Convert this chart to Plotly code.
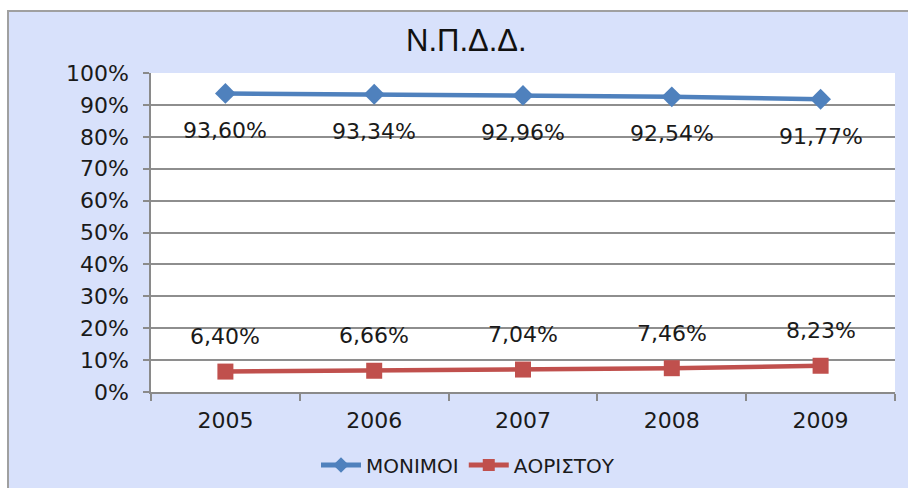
import plotly.graph_objects as go

years = ["2005", "2006", "2007", "2008", "2009"]
monimoi = [93.60, 93.34, 92.96, 92.54, 91.77]
aoristou = [6.40, 6.66, 7.04, 7.46, 8.23]
monimoi_labels = ["93,60%", "93,34%", "92,96%", "92,54%", "91,77%"]
aoristou_labels = ["6,40%", "6,66%", "7,04%", "7,46%", "8,23%"]
y_ticks = [0, 10, 20, 30, 40, 50, 60, 70, 80, 90, 100]
y_tick_text = [f"{v}%" for v in y_ticks]

BLUE = "#4f81bd"
RED = "#c0504d"
FONT = "DejaVu Sans"

fig = go.Figure()
fig.add_trace(go.Scatter(
    x=years, y=monimoi, name="ΜΟΝΙΜΟΙ", mode="lines+markers",
    line=dict(color=BLUE, width=4.5),
    marker=dict(symbol="diamond", size=16, color=BLUE),
))
fig.add_trace(go.Scatter(
    x=years, y=aoristou, name="ΑΟΡΙΣΤΟΥ", mode="lines+markers",
    line=dict(color=RED, width=4.5),
    marker=dict(symbol="square", size=16, color=RED),
))

annotations = []
for i, (y, t) in enumerate(zip(monimoi, monimoi_labels)):
    annotations.append(dict(x=i, y=y, xref="x", yref="y", text=t, showarrow=False,
                            yshift=-37, yanchor="middle",
                            font=dict(family=FONT, size=22, color="#1a1a1a")))
for i, (y, t) in enumerate(zip(aoristou, aoristou_labels)):
    annotations.append(dict(x=i, y=y, xref="x", yref="y", text=t, showarrow=False,
                            yshift=35, yanchor="middle",
                            font=dict(family=FONT, size=22, color="#1a1a1a")))

W, H = 908, 488
L, R, T, B = 151, 13, 73, 96
pw, ph = W - L - R, H - T - B


def px_x(p):
    return (p - L) / pw


def px_y(p):
    return (H - B - p) / ph


annotations.append(dict(x=px_x(466), xref="paper", y=px_y(41), yref="paper",
                        xanchor="center", yanchor="middle", text="Ν.Π.Δ.Δ.",
                        showarrow=False,
                        font=dict(family="Liberation Sans", size=31, color="#111111")))

fig.update_layout(
    width=W, height=H,
    margin=dict(l=L, r=R, t=T, b=B, autoexpand=False),
    paper_bgcolor="white",
    plot_bgcolor="white",
    showlegend=True,
    legend=dict(orientation="h", xref="container", yref="container",
                x=468 / W, xanchor="center", y=1 - 465 / H, yanchor="middle",
                font=dict(family=FONT, size=20, color="#1a1a1a"),
                bgcolor="rgba(0,0,0,0)", itemwidth=40, itemsizing="constant"),
    annotations=annotations,
    shapes=[
        dict(type="rect", xref="paper", yref="paper", layer="below",
             x0=px_x(8), x1=px_x(912), y0=px_y(495), y1=px_y(11),
             fillcolor="#d8e1fb", line=dict(color="#a0a0a0", width=2)),
        dict(type="rect", xref="paper", yref="paper", layer="below",
             x0=0, x1=1, y0=0, y1=1, fillcolor="white", line=dict(width=0)),
    ],
    xaxis=dict(
        type="category", showgrid=False, showline=True, linecolor="#8a8a8a",
        linewidth=1.5, ticks="outside", tickson="boundaries", ticklen=7,
        tickcolor="#8a8a8a", tickwidth=1.5,
        tickfont=dict(family=FONT, size=22, color="#1a1a1a"),
        ticklabelstandoff=8, range=[-0.5, 4.5],
    ),
    yaxis=dict(
        range=[0, 100], tickvals=y_ticks, ticktext=y_tick_text,
        showgrid=True, gridcolor="#8e8e8e", gridwidth=1.5,
        showline=True, linecolor="#8a8a8a", linewidth=1.5,
        ticks="outside", ticklen=6, tickcolor="#8a8a8a", tickwidth=1.5,
        tickfont=dict(family=FONT, size=22, color="#1a1a1a"),
        ticklabelstandoff=10, zeroline=False,
    ),
)

fig.write_html(
    "out.html",
    config={"displayModeBar": False},
    post_script="document.documentElement.style.overflow='hidden';"
                "document.body.style.margin='0';document.body.style.overflow='hidden';",
)
